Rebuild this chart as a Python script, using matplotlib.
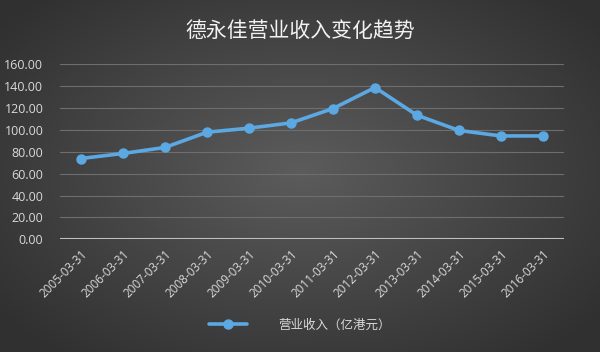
import numpy as np
import matplotlib
matplotlib.use("Agg")
import matplotlib.pyplot as plt

plt.rcParams['font.family'] = ['Noto Sans CJK SC', 'DejaVu Sans']

title = "德永佳营业收入变化趋势"
series_name = "营业收入（亿港元）"
dates = ["2005-03-31", "2006-03-31", "2007-03-31", "2008-03-31", "2009-03-31",
         "2010-03-31", "2011-03-31", "2012-03-31", "2013-03-31", "2014-03-31",
         "2015-03-31", "2016-03-31"]
revenue = [73.8, 78.4, 83.9, 97.8, 101.5, 106.3, 119.4, 138.6, 113.3, 99.4, 94.4, 94.4]
yticks = [0, 20, 40, 60, 80, 100, 120, 140, 160]

fig = plt.figure(figsize=(6, 3.52), dpi=100)

# radial gradient background
bg = fig.add_axes([0, 0, 1, 1], zorder=-10)
yy, xx = np.mgrid[0:352, 0:600]
r = np.sqrt(((xx - 300) / 400.0) ** 2 + ((yy - 170) / 250.0) ** 2)
val = np.clip(0.36 - 0.18 * r, 0.19, 0.36)
img = np.dstack([val, val, val])
bg.imshow(img, aspect='auto', extent=[0, 1, 0, 1])
bg.axis('off')

ax = fig.add_axes([0.1, 0.32, 0.84, 0.498])
ax.set_facecolor('none')
x = np.arange(len(dates))
line, = ax.plot(x, revenue, color='#5ba8e2', lw=2.6, marker='o', ms=6.5,
                solid_capstyle='round', zorder=3, label=series_name)
ax.set_xlim(-0.5, len(dates) - 0.5)
ax.set_ylim(0, 160)
ax.set_yticks(yticks)
ax.set_yticklabels([f"{v:.2f}" for v in yticks], fontsize=9, color='#d9d9d9',
                   family=['Open Sans', 'DejaVu Sans'])
ax.set_xticks(x)
ax.set_xticklabels(dates, rotation=45, ha='right', rotation_mode='anchor',
                   fontsize=8.5, color='#d9d9d9', family=['Open Sans', 'DejaVu Sans'])
ax.tick_params(axis='y', length=0, pad=12)
ax.tick_params(axis='x', length=0, pad=6)
for v in yticks[1:]:
    ax.axhline(v, color='#6e6e6e', lw=0.8, zorder=1)
ax.axhline(0, color='#bfbfbf', lw=1.5, zorder=2)
for s in ax.spines.values():
    s.set_visible(False)

fig.text(0.5, 0.91, title, ha='center', va='center', fontsize=15, color='#f2f2f2')

leg = fig.legend(handles=[line], loc='center', bbox_to_anchor=(0.5, 0.077),
                 frameon=False, fontsize=9, handlelength=3, handletextpad=2.5)
for t in leg.get_texts():
    t.set_color('#d9d9d9')

fig.savefig("out.png", dpi=100)
